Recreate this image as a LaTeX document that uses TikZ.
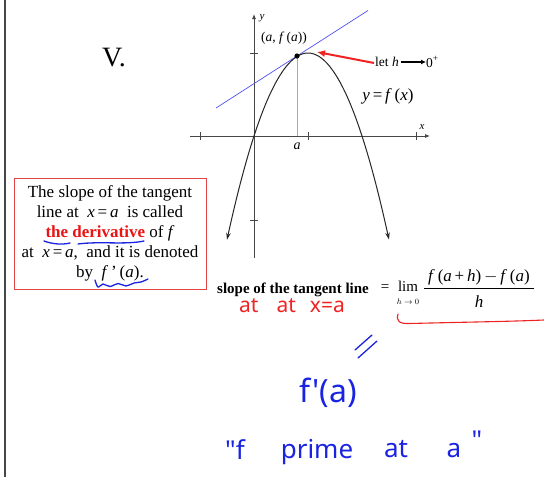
\documentclass[tikz,border=0pt]{standalone}
\usepackage{fontspec}
\setmainfont{Liberation Serif}
\newfontfamily\hand{Noto Sans}
\usetikzlibrary{arrows.meta}
\definecolor{axisgray}{RGB}{70,70,70}
\definecolor{lightgray2}{RGB}{170,170,170}
\definecolor{penblue}{RGB}{25,35,225}
\definecolor{penred}{RGB}{240,35,35}
\definecolor{boxred}{RGB}{228,70,70}
\definecolor{tanblue}{RGB}{80,80,245}
\definecolor{derivred}{RGB}{235,20,20}
\begin{document}
\begin{tikzpicture}[x=1pt,y=-1pt,
  axis/.style={axisgray, line width=0.8pt},
  tick/.style={axisgray, line width=0.5pt},
  curve/.style={black!85, line width=1pt},
  serif/.style={inner sep=0pt, text=black},
  handblue/.style={inner sep=0pt, text=penblue, font=\hand},
  handred/.style={inner sep=0pt, text=penred, font=\hand},
  inkblue/.style={penblue, line width=1.3pt, line cap=round, line join=round},
  inkred/.style={penred, line width=1.1pt, line cap=round, line join=round}]
\useasboundingbox (0,0) rectangle (544,477);
\fill[white] (0,0) rectangle (544,477);
% left border
\draw[axisgray, line width=1.6pt] (5,0) -- (5,477);
% title
\node (title) [serif, font=\fontsize{28}{32}\selectfont] at (114,58) {V.};
% axes
\coordinate (yb) at (254,258);
\coordinate (yt) at (254,14);
\coordinate (xl) at (190,136);
\coordinate (xr) at (430,136);
\draw[axis, -{Latex[length=5pt,width=4pt]}] (yb) -- (yt);
\draw[axis, -{Latex[length=5pt,width=4pt]}] (xl) -- (xr);
\foreach \tx in {200,308,416} \draw[tick] (\tx,132) -- (\tx,140);
\foreach \ty in {53,220} \draw[tick] (250,\ty) -- (258,\ty);
\node (ylab) [serif, font=\fontsize{11}{12}\itshape] at (262,18) {y};
\node (xlab) [serif, font=\fontsize{11}{12}\itshape] at (422,127) {x};
% tangent line
\coordinate (t1) at (216,108);
\coordinate (t2) at (368,10.5);
\draw[tanblue, line width=0.7pt] (t1) -- (t2);
% parabola
\draw[curve, {Stealth[length=7pt,width=4.5pt]}-{Stealth[length=7pt,width=4.5pt]}]
  plot[domain=-0.5:2.5, samples=80, smooth] ({254+54*\x},{136-83*\x*(2-\x)});
% point (a, f(a))
\coordinate (pa) at (297,56);
\coordinate (pax) at (297,136);
\draw[lightgray2, line width=0.7pt] (pa) -- (pax);
\fill[black] (pa) circle (2.6);
\node (alab) [serif, font=\fontsize{14}{16}\itshape] at (297,146) {a};
\node (palab) [serif, font=\fontsize{13.5}{16}\selectfont] at (284,38) {(\textit{a}, \textit{f}\,(\textit{a}))};
\node (flab) [serif, font=\fontsize{17}{20}\selectfont] at (388,96) {\textit{y}\,=\,\textit{f}\,(\textit{x})};
% let h -> 0+
\node (lettxt) [serif, anchor=west, font=\fontsize{13.5}{16}\selectfont] at (375,62) {let \textit{h}};
\node (zero) [serif, anchor=west, font=\fontsize{13.5}{16}\selectfont] at (426,62) {0\textsuperscript{+}};
\draw[black, line width=1.4pt, -{Latex[length=5pt,width=5pt]}] ([xshift=2pt]lettxt.east) -- (zero.west);
\coordinate (vtx) at (317,52);
\draw[penred, line width=2pt, -{Latex[length=8pt,width=7pt]}] ([xshift=-1pt,yshift=-1pt]lettxt.west) -- (vtx);
% definition box
\node (defbox) [draw=boxred, line width=0.8pt, align=center, text=black,
  font=\fontsize{17}{20}\selectfont, minimum width=192pt, minimum height=111pt, inner sep=2pt]
  at (110,233.5)
  {The slope of the tangent\\
   line at \ \textit{x}\,=\,\textit{a} \ is called\\
   {\bfseries\color{derivred}the derivative} of \textit{f}\\
   at \ \textit{x}\,=\,\textit{a}, \ and it is denoted\\
   by \ \textit{f}\,'\,(\textit{a}).};
% blue underlines in box
\draw[inkblue] (44,241) .. controls (52,244) and (62,245) .. (70,243);
\draw[inkblue] (78,244) .. controls (100,241) and (125,245) .. (144,241);
\draw[inkblue] plot[smooth, tension=0.6] coordinates {(95,280) (98,287) (103,284) (110,286.5) (118,283.5) (126,286) (134,283) (141,282) (148,279)};
% formula
\node (slope) [serif, anchor=west, font=\fontsize{15}{17}\bfseries] at (217,290) {slope of the tangent line};
\node (eq) [serif, font=\fontsize{15}{17}\selectfont] at (385,288.5) {=};
\node (lim) [serif, font=\fontsize{15}{17}\selectfont] at (408,286.5) {lim};
\node (limsub) [serif, font=\fontsize{8}{9}\selectfont] at (408,302) {$h\to 0$};
\node (num) [serif, font=\fontsize{17}{19}\selectfont] at (479,277) {\textit{f}\,(\textit{a}\,+\,\textit{h})\,$-$\,\textit{f}\,(\textit{a})};
\node (den) [serif, font=\fontsize{17}{19}\selectfont] at (479,302) {\textit{h}};
\draw[black, line width=0.6pt] (424,288) -- (534,288);
% red handwriting
\node (atat) [handred, font=\hand\fontsize{21}{24}\selectfont] at (292,306) {at\hspace{18pt}at\hspace{14pt}x=a};
\draw[inkred] (398,314) .. controls (396,321) and (399,324) .. (410,323.5) .. controls (470,322) and (510,321.5) .. (544,320);
% blue handwriting
\draw[inkblue] (355,350) -- (372,335);
\draw[inkblue] (358,358) -- (377,341);
\node (fpa) [handblue, font=\hand\fontsize{32}{36}\selectfont] at (328,393) {f'(a)};
\node (w1) [handblue, font=\hand\fontsize{26}{30}\selectfont] at (235,450) {"f};
\node (w2) [handblue, font=\hand\fontsize{26}{30}\selectfont] at (317,452) {prime};
\node (w3) [handblue, font=\hand\fontsize{26}{30}\selectfont] at (396,449) {at};
\node (w4) [handblue, font=\hand\fontsize{26}{30}\selectfont] at (454,451) {a};
\node (w5) [handblue, font=\hand\fontsize{26}{30}\selectfont] at (477,440) {"};
\end{tikzpicture}
\end{document}
